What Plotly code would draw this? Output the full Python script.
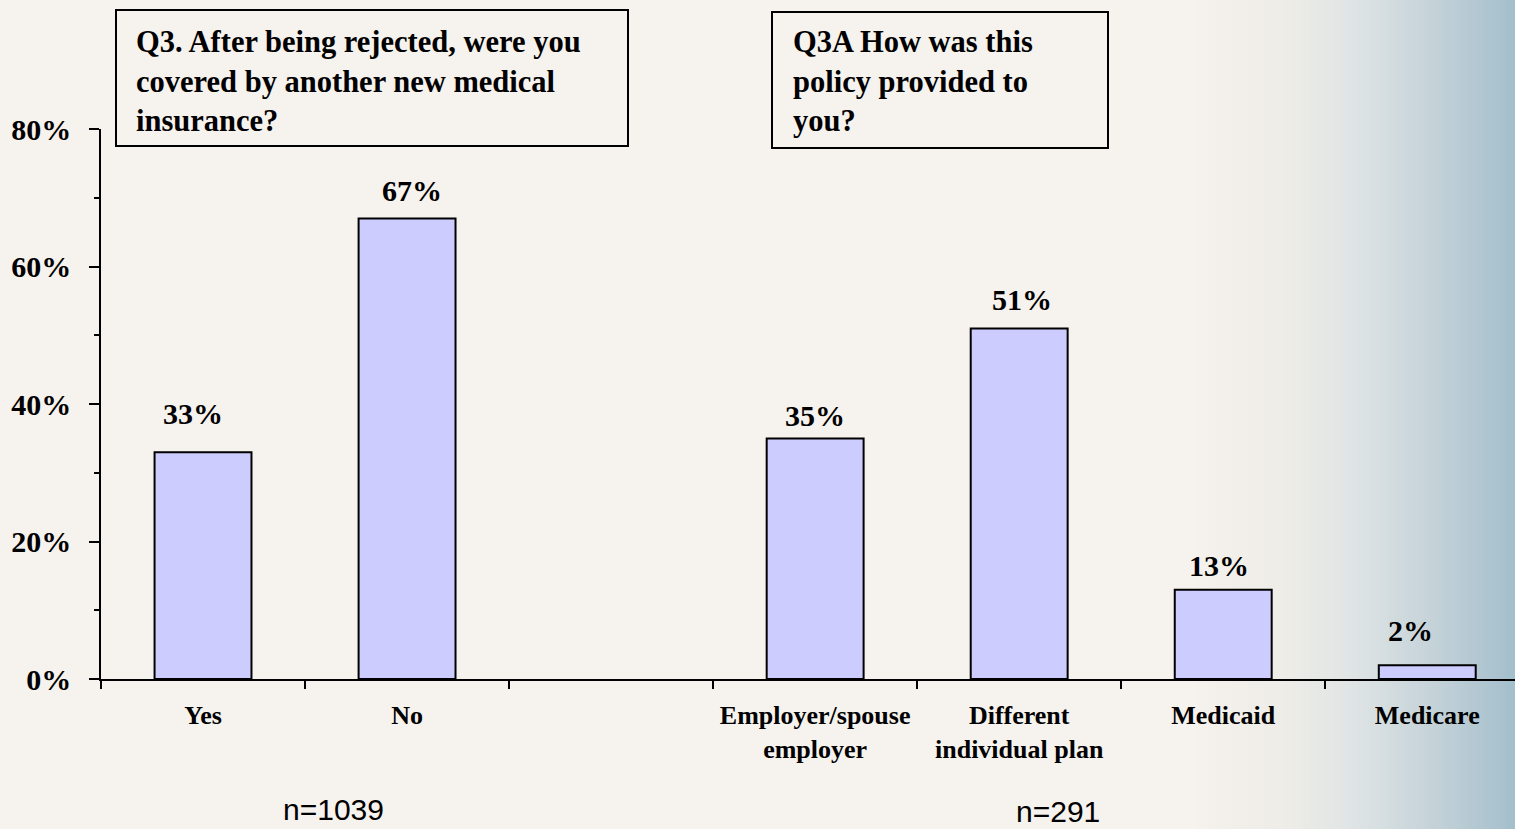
import plotly.graph_objects as go

# Survey responses (percent of respondents)
categories = ["Yes", "No", " ", "Employer/spouse<br>employer",
              "Different<br>individual plan", "Medicaid", "Medicare"]
percents = [33, 67, None, 35, 51, 13, 2]

question_q3 = "Q3. After being rejected, were you<br>covered by another new medical<br>insurance?"
question_q3a = "Q3A How was this<br>policy provided to<br>you?"
sample_sizes = ["n=1039", "n=291"]

# hand-placed label nudges (pixels) for the value labels
label_dx = [-10, 5, 0, 0, 3, -4, -17]
label_dy = [10, -1, 0, -6, 0, -4, 6]

W, H = 1515, 829
ML, MR, MT, MB = 101, 0, 129, 150
PW, PH = W - ML - MR, H - MT - MB

def px_x(p):
    return (p - ML) / PW

def px_y(p):
    return (H - MB - p) / PH

SERIF = "Liberation Serif, Times New Roman, serif"
SANS = "Liberation Sans, Arial, sans-serif"

fig = go.Figure()
fig.add_trace(go.Bar(
    x=categories, y=percents, width=0.475,
    marker=dict(color="#CCCCFF", line=dict(color="black", width=2)),
    hoverinfo="skip",
))

shapes = []
# right-side background gradient: beige fading into slate blue
stops = [(1190, (246, 242, 238)), (1290, (237, 236, 231)), (1360, (221, 227, 228)),
         (1430, (198, 211, 217)), (1515, (163, 191, 204))]

def color_at(x):
    for (x0, c0), (x1, c1) in zip(stops[:-1], stops[1:]):
        if x0 <= x <= x1:
            t = (x - x0) / (x1 - x0)
            return tuple(round(a + (b - a) * t) for a, b in zip(c0, c1))
    return stops[-1][1]

step = 3
for x in range(stops[0][0], W, step):
    c = color_at(x + step / 2)
    shapes.append(dict(type="rect", xref="paper", yref="paper",
                       x0=px_x(x), x1=px_x(min(x + step + 1, W + 2)),
                       y0=px_y(H + 5), y1=px_y(-5), layer="below",
                       line=dict(width=0), fillcolor=f"rgb{c}"))

# question boxes
for (x0, y0, x1, y1) in [(116, 10, 628, 146), (772, 12, 1108, 148)]:
    shapes.append(dict(type="rect", xref="paper", yref="paper",
                       x0=px_x(x0), x1=px_x(x1), y0=px_y(y1), y1=px_y(y0),
                       line=dict(color="black", width=2), fillcolor="rgba(0,0,0,0)"))

annotations = []
for (text, xl) in [(question_q3, 134), (question_q3a, 791)]:
    annotations.append(dict(text=f"<b>{text}</b>", xref="paper", yref="paper",
                            x=px_x(xl), y=px_y(23), xanchor="left", yanchor="top",
                            align="left", showarrow=False,
                            font=dict(family=SERIF, size=30.5, color="black")))

# value labels above the bars
for cat, v, dx, dy in zip(categories, percents, label_dx, label_dy):
    if v is None:
        continue
    annotations.append(dict(text=f"<b>{v}%</b>", x=cat, y=v, xanchor="center",
                            yanchor="bottom", xshift=dx, yshift=10 + dy, showarrow=False,
                            font=dict(family=SERIF, size=30, color="black")))

# sample size notes
for text, cx, cy in zip(sample_sizes, [333, 1058], [809, 812]):
    annotations.append(dict(text=text, xref="paper", yref="paper",
                            x=px_x(cx), y=px_y(cy), xanchor="center", yanchor="middle",
                            showarrow=False,
                            font=dict(family=SANS, size=30, color="black")))

fig.update_layout(
    width=W, height=H,
    margin=dict(l=ML, r=MR, t=MT, b=MB, pad=0),
    paper_bgcolor="#F6F2EE", plot_bgcolor="rgba(0,0,0,0)",
    showlegend=False, bargap=0.5,
    shapes=shapes, annotations=annotations,
    xaxis=dict(type="category", range=[-0.5, 6.43], showline=True, linecolor="black",
               linewidth=1.5, ticks="outside", tickson="boundaries", ticklen=8,
               tickcolor="black", tickwidth=1.5, showgrid=False, zeroline=False,
               tickfont=dict(family=SERIF, size=26, color="black", weight="bold"),
               ticklabelstandoff=12, fixedrange=True),
    yaxis=dict(range=[0, 80], dtick=20, ticksuffix="%", showline=True, linecolor="black",
               linewidth=1.5, ticks="outside", ticklen=10, tickcolor="black", tickwidth=1.5,
               minor=dict(dtick=10, ticks="outside", ticklen=5, tickcolor="black", tickwidth=1.5),
               showgrid=False, zeroline=False,
               tickfont=dict(family=SERIF, size=30, color="black", weight="bold"),
               ticklabelstandoff=12, fixedrange=True),
)

fig.write_html("out.html", config={"displayModeBar": False})
